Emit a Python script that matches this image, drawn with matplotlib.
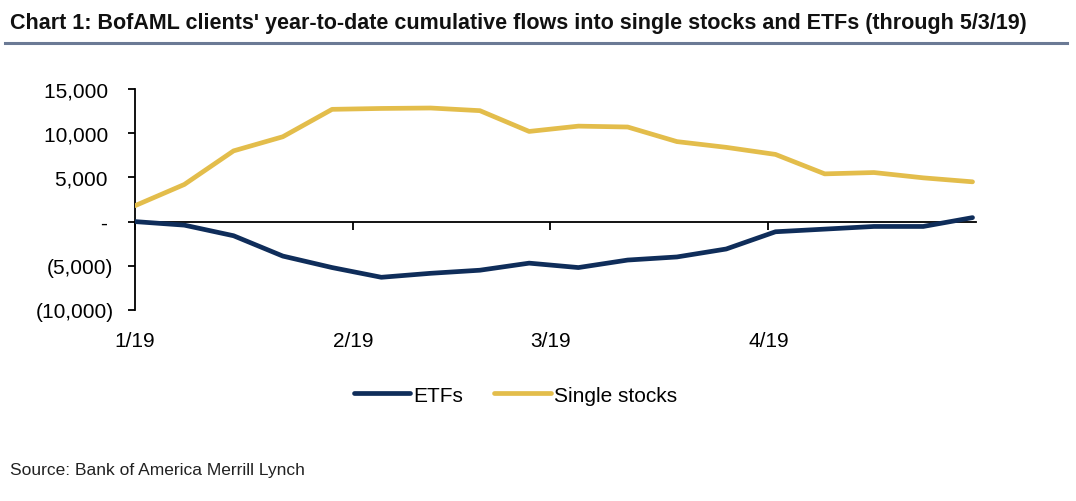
import matplotlib
matplotlib.use("Agg")
import matplotlib.pyplot as plt
import matplotlib.dates as mdates
import matplotlib.ticker as mticker
from matplotlib.lines import Line2D
import numpy as np

# weekly observations, year-to-date cumulative flows ($mn)
dates = [
    "2019-01-01", "2019-01-08", "2019-01-15", "2019-01-22", "2019-01-29",
    "2019-02-05", "2019-02-12", "2019-02-19", "2019-02-26", "2019-03-05",
    "2019-03-12", "2019-03-19", "2019-03-26", "2019-04-02", "2019-04-09",
    "2019-04-16", "2019-04-23", "2019-04-30",
]
etfs = [0, -400, -1600, -3900, -5200, -6300, -5850, -5500, -4700, -5200,
        -4350, -4000, -3100, -1150, -850, -550, -550, 450]
single_stocks = [1800, 4200, 8000, 9600, 12700, 12800, 12850, 12550, 10200, 10800,
                 10700, 9050, 8400, 7600, 5400, 5550, 4950, 4500]

navy = "#0f2d5a"
gold = "#e3bd4b"

plt.rcParams['font.family'] = ['Liberation Sans Narrow', 'Liberation Sans', 'DejaVu Sans']

x = np.array(dates, dtype="datetime64[D]")

fig = plt.figure(figsize=(10.76, 5.02), dpi=100)
ax = fig.add_axes([0.1255, 0.3805, 0.7816, 0.4402])

ax.plot(x, etfs, color=navy, lw=3.4, label="ETFs", solid_capstyle="round", zorder=3)
ax.plot(x, single_stocks, color=gold, lw=3.4, label="Single stocks", solid_capstyle="round", zorder=3)

ax.set_ylim(-10000, 15000)
ax.set_xlim(x[0], x[-1] + np.timedelta64(12, "h"))
ax.yaxis.set_major_locator(mticker.MultipleLocator(5000))


def fmt(v, pos):
    if v == 0:
        return "- "
    if v < 0:
        return f"({-v:,.0f})"
    return f"{v:,.0f} "


ax.yaxis.set_major_formatter(mticker.FuncFormatter(fmt))
ax.xaxis.set_major_locator(mdates.MonthLocator())
ax.xaxis.set_major_formatter(mticker.FuncFormatter(
    lambda v, pos: f"{mdates.num2date(v).month}/{mdates.num2date(v).strftime('%y')}"))

ax.spines['top'].set_visible(False)
ax.spines['right'].set_visible(False)
ax.spines['bottom'].set_position(('data', 0))
for s in ('left', 'bottom'):
    ax.spines[s].set_linewidth(1.3)
    ax.spines[s].set_color('black')

ax.tick_params(axis='y', direction='out', length=5, width=1.3, labelsize=15, pad=10.5)
ax.tick_params(axis='x', direction='out', length=6, width=1.3, labelsize=15, pad=73)

fig.text(0.009, 0.953, "Chart 1: BofAML clients' year-to-date cumulative flows into single stocks and ETFs (through 5/3/19)",
         fontsize=15.5, fontweight='bold', va='center', ha='left', color='#111111')
fig.add_artist(Line2D([0.005, 0.992], [0.912, 0.912], transform=fig.transFigure,
                      color='#6b7a95', lw=2.2))

fig.legend(loc='center', bbox_to_anchor=(0.479, 0.211), ncol=2, frameon=False,
           fontsize=15, handlelength=2.7, handletextpad=0.15, columnspacing=1.5)

fig.text(0.009, 0.063, "Source: Bank of America Merrill Lynch", fontsize=12.5,
         va='center', ha='left', color='#222222')

fig.savefig("out.png", dpi=100, facecolor='white')
